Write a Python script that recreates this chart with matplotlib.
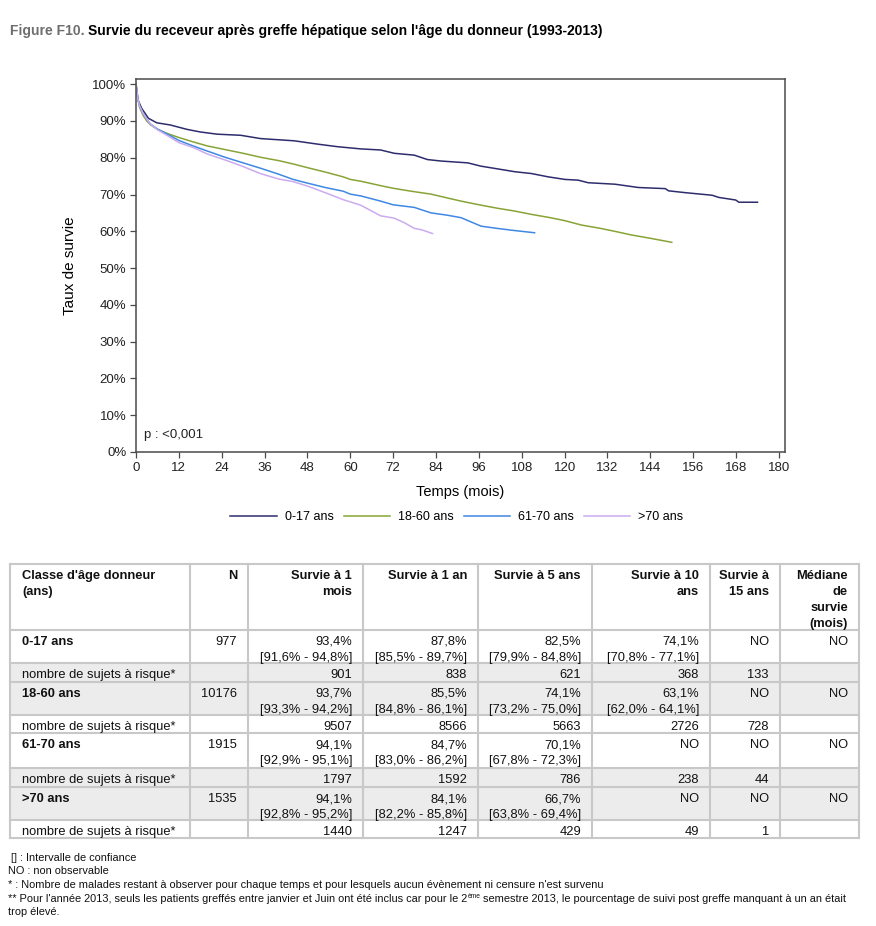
import matplotlib
matplotlib.use("Agg")
import matplotlib.pyplot as plt
from matplotlib.patches import Rectangle
from matplotlib.lines import Line2D
from matplotlib.ticker import FuncFormatter, MultipleLocator

plt.rcParams["font.family"] = ["Liberation Sans", "DejaVu Sans"]

W, H = 876, 926

# survival curves: months, survival (%)
t_0_17 = [0, 0.6, 1.6, 3.5, 5.8, 9.6, 14.3, 18, 22.7, 29.3, 34.9, 44.3, 50.8, 56.4, 62.9,
          68.5, 72.3, 77.9, 81.6, 85.4, 92.9, 96.6, 100.4, 106, 110.7, 115.4, 120.1, 123.8,
          126.6, 134.1, 140.7, 148.2, 149.1, 153.8, 161.3, 163.2, 167.9, 168.8, 174]
s_0_17 = [100, 95.6, 93.4, 90.7, 89.5, 88.9, 87.7, 87.0, 86.4, 86.1, 85.2, 84.6, 83.7, 83.0, 82.4,
          82.1, 81.2, 80.7, 79.5, 79.1, 78.6, 77.7, 77.1, 76.2, 75.7, 74.8, 74.1, 73.9,
          73.2, 72.8, 71.9, 71.6, 71.0, 70.5, 69.8, 69.2, 68.5, 67.9, 67.9]

t_18_60 = [0, 0.5, 1, 2, 3, 4, 6, 9, 12, 16, 20, 25, 30, 35, 40, 44, 48, 53, 58, 60, 63,
           68.5, 72, 77, 82.6, 87, 91, 96.6, 101, 106, 110.7, 116, 120, 124.7, 130, 134, 138.7,
           144, 150]
s_18_60 = [100, 96, 93.7, 91.5, 90, 89, 87.7, 86.5, 85.5, 84.3, 83.2, 82.2, 81.2, 80.1, 79.2,
           78.3, 77.3, 76.1, 74.8, 74.1, 73.6, 72.4, 71.7, 70.9, 70.1, 69.1, 68.2, 67.1, 66.3,
           65.5, 64.6, 63.7, 62.9, 61.7, 60.8, 60.0, 59.0, 58.1, 57.0]

t_61_70 = [0, 0.5, 1, 2, 3, 4, 6, 9, 12, 16, 20, 25, 30, 35, 40, 44, 48, 53, 58, 60, 63, 68.5,
           72, 77.9, 82.6, 87, 91, 96.6, 101, 106, 111.6]
s_61_70 = [100, 96, 94.1, 92, 90.5, 89.2, 87.8, 86.3, 84.7, 83.2, 81.8, 80.1, 78.6, 77.1, 75.5,
           74.1, 73.1, 71.9, 70.9, 70.1, 69.6, 68.2, 67.2, 66.5, 65.0, 64.4, 63.7, 61.4, 60.8,
           60.2, 59.6]

t_70 = [0, 0.5, 1, 2, 3, 4, 6, 9, 12, 16, 20, 25.5, 30, 34.8, 40, 44, 48, 53.5, 58, 62.9,
        66, 68.5, 72.2, 75, 77.9, 80, 83]
s_70 = [100, 96, 94.1, 92, 90.5, 89.2, 87.6, 85.9, 84.1, 82.8, 81.0, 79.2, 77.6, 75.7, 74.2,
        73.5, 72.3, 70.3, 68.6, 67.1, 65.5, 64.2, 63.6, 62.4, 60.8, 60.4, 59.4]

groups = ["0-17 ans", "18-60 ans", "61-70 ans", ">70 ans"]
curves = [(t_0_17, s_0_17), (t_18_60, s_18_60), (t_61_70, s_61_70), (t_70, s_70)]
colors = ["#2d2d6e", "#88a436", "#3f88e3", "#cbabef"]

# table values
headers = ["Classe d'âge donneur\n(ans)", "N", "Survie à 1\nmois", "Survie à 1 an",
           "Survie à 5 ans", "Survie à 10\nans", "Survie à\n15 ans", "Médiane\nde\nsurvie\n(mois)"]
n_values = ["977", "10176", "1915", "1535"]
surv_1m = ["93,4%", "93,7%", "94,1%", "94,1%"]
ci_1m = ["[91,6% - 94,8%]", "[93,3% - 94,2%]", "[92,9% - 95,1%]", "[92,8% - 95,2%]"]
surv_1y = ["87,8%", "85,5%", "84,7%", "84,1%"]
ci_1y = ["[85,5% - 89,7%]", "[84,8% - 86,1%]", "[83,0% - 86,2%]", "[82,2% - 85,8%]"]
surv_5y = ["82,5%", "74,1%", "70,1%", "66,7%"]
ci_5y = ["[79,9% - 84,8%]", "[73,2% - 75,0%]", "[67,8% - 72,3%]", "[63,8% - 69,4%]"]
surv_10y = ["74,1%", "63,1%", "NO", "NO"]
ci_10y = ["[70,8% - 77,1%]", "[62,0% - 64,1%]", "", ""]
surv_15y = ["NO", "NO", "NO", "NO"]
median = ["NO", "NO", "NO", "NO"]
risk_1m = ["901", "9507", "1797", "1440"]
risk_1y = ["838", "8566", "1592", "1247"]
risk_5y = ["621", "5663", "786", "429"]
risk_10y = ["368", "2726", "238", "49"]
risk_15y = ["133", "728", "44", "1"]
risk_label = "nombre de sujets à risque*"

footnotes = [" [] : Intervalle de confiance",
             "NO : non observable",
             "* : Nombre de malades restant à observer pour chaque temps et pour lesquels "
             "aucun évènement ni censure n'est survenu"]
note_a = ("** Pour l'année 2013, seuls les patients greffés entre janvier et Juin ont été "
          "inclus car pour le 2")
note_sup = "ème"
note_b = " semestre 2013, le pourcentage de suivi post greffe manquant à un an était"
note_c = "trop élevé."

fig = plt.figure(figsize=(W / 100, H / 100), dpi=100)
fig.patch.set_facecolor("white")

# ---- title ----
renderer = fig.canvas.get_renderer()
t1 = fig.text(10 / W, 1 - 31 / H, "Figure F10.", color="#6e6e6e", fontsize=10,
              fontweight="bold", va="center", ha="left")
bb = t1.get_window_extent(renderer)
fig.text((bb.x1 + 3) / W, 1 - 31 / H,
         "Survie du receveur après greffe hépatique selon l'âge du donneur (1993-2013)",
         color="black", fontsize=10, fontweight="bold", va="center", ha="left")

# ---- survival chart ----
ax = fig.add_axes([136 / W, 1 - 452 / H, (785 - 136) / W, (452 - 79) / H])
for (t, s), c, g in zip(curves, colors, groups):
    ax.plot(t, s, color=c, lw=1.1, label=g)
ax.set_xlim(0, 181.7)
ax.set_ylim(0, 101.4)
ax.xaxis.set_major_locator(MultipleLocator(12))
ax.yaxis.set_major_locator(MultipleLocator(10))
ax.yaxis.set_major_formatter(FuncFormatter(lambda v, p: f"{v:.0f}%"))
for sp in ax.spines.values():
    sp.set_color("#4a4a4a")
    sp.set_linewidth(1.1)
ax.tick_params(direction="out", length=4, width=0.9, color="#4a4a4a",
               labelsize=9.5, pad=3, labelcolor="#222222")
ax.set_xlabel("Temps (mois)", fontsize=10.5, labelpad=8)
ax.set_ylabel("Taux de survie", fontsize=11, labelpad=11)
ax.text(0.012, 0.03, "p : <0,001", transform=ax.transAxes, fontsize=9.5,
        ha="left", va="bottom", color="#222222")

handles = [Line2D([], [], color=c, lw=1.1) for c in colors]
fig.legend(handles, groups, loc="center", bbox_to_anchor=(457 / W, 1 - 517 / H), ncol=4,
           frameon=False, fontsize=9, handlelength=3.7, handletextpad=0.65,
           columnspacing=0.8, borderpad=0, borderaxespad=0)

# ---- table (pixel coordinates) ----
tab = fig.add_axes([0, 0, 1, 1], zorder=-1)
tab.set_xlim(0, W)
tab.set_ylim(H, 0)
tab.axis("off")

col_x = [10, 190, 248, 363, 478, 592, 710, 780, 859]
row_y = [564, 630, 663, 682, 715, 733, 768, 787, 820, 838]
grey_rows = [3, 4, 7, 8]
for r in grey_rows:
    tab.add_patch(Rectangle((col_x[0], row_y[r - 1]), col_x[-1] - col_x[0],
                            row_y[r] - row_y[r - 1], facecolor="#ececec", edgecolor="none"))
for x in col_x:
    tab.plot([x, x], [row_y[0], row_y[-1]], color="#c8c8c8", lw=1.5, solid_capstyle="projecting")
for y in row_y:
    tab.plot([col_x[0], col_x[-1]], [y, y], color="#c8c8c8", lw=1.5, solid_capstyle="projecting")

FS = 9.3


def cell(row, col, text, bold=False):
    top = row_y[row]
    for i, line in enumerate(text.split("\n")):
        if col == 0:
            x, ha = col_x[0] + 12, "left"
        else:
            x, ha = col_x[col + 1] - 11, "right"
        tab.text(x, top + 15 + 16 * i, line, ha=ha, va="baseline", fontsize=FS,
                 fontweight="bold" if bold else "normal", color="#111111")


for c, h in enumerate(headers):
    cell(0, c, h, bold=True)

for g in range(4):
    r = 1 + 2 * g
    cell(r, 0, groups[g], bold=True)
    cell(r, 1, n_values[g])
    cell(r, 2, surv_1m[g] + "\n" + ci_1m[g])
    cell(r, 3, surv_1y[g] + "\n" + ci_1y[g])
    cell(r, 4, surv_5y[g] + "\n" + ci_5y[g])
    cell(r, 5, surv_10y[g] + ("\n" + ci_10y[g] if ci_10y[g] else ""))
    cell(r, 6, surv_15y[g])
    cell(r, 7, median[g])
    cell(r + 1, 0, risk_label)
    cell(r + 1, 2, risk_1m[g])
    cell(r + 1, 3, risk_1y[g])
    cell(r + 1, 4, risk_5y[g])
    cell(r + 1, 5, risk_10y[g])
    cell(r + 1, 6, risk_15y[g])

# ---- footnotes ----
FN = 7.9
for i, line in enumerate(footnotes):
    tab.text(8, 861 + 13.5 * i, line, fontsize=FN, va="baseline", ha="left", color="#111111")
y4 = 861 + 13.5 * 3
ta = tab.text(8, y4, note_a, fontsize=FN, va="baseline", ha="left", color="#111111")
xa = ta.get_window_extent(renderer).x1
ts = fig.text(xa / W, 1 - (y4 - 4) / H, note_sup, fontsize=FN * 0.6, va="baseline",
              ha="left", color="#111111")
xs = ts.get_window_extent(renderer).x1
fig.text(xs / W, 1 - y4 / H, note_b, fontsize=FN, va="baseline", ha="left", color="#111111")
tab.text(8, y4 + 13.5, note_c, fontsize=FN, va="baseline", ha="left", color="#111111")

fig.savefig("out.png", dpi=100, facecolor="white")
